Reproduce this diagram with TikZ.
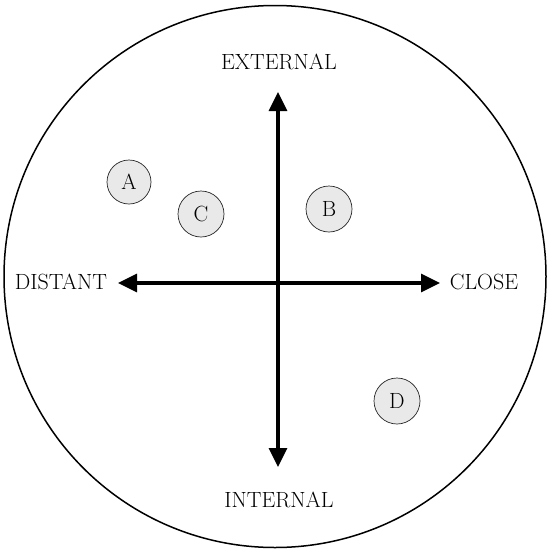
\documentclass[tikz,border=0pt]{standalone}
\usetikzlibrary{arrows.meta,patterns}
\begin{document}
\begin{tikzpicture}[x=1pt,y=-1pt,
  lbl/.style={font=\fontsize{22}{26}\selectfont, inner sep=0pt},
  small/.style={circle, draw=black!85, line width=0.7pt, fill=gray!17, minimum size=46pt, inner sep=0pt, font=\fontsize{22}{25}\selectfont},
  axis/.style={line width=3.3pt, {Triangle[length=19pt,width=18pt]}-{Triangle[length=19pt,width=18pt]}}]
\useasboundingbox (0,0) rectangle (549,549);
\node[circle, draw, line width=1.5pt, minimum size=542pt, inner sep=0pt] (outer) at (275,276.5) {};
\coordinate (top) at (278,92);
\coordinate (bot) at (278,467);
\coordinate (lft) at (118,283);
\coordinate (rgt) at (440,283);
\draw[axis] (top) -- (bot);
\draw[axis] (lft) -- (rgt);
\node[lbl] (ext) at (279,62) {EXTERNAL};
\node[lbl] (int) at (279,500) {INTERNAL};
\node[lbl] (dist) at (61,282) {DISTANT};
\node[lbl] (close) at (484,282) {CLOSE};
\node[small, minimum size=44pt] (A) at (129,182) {A};
\node[small] (C) at (201,214) {C};
\node[small] (B) at (329,209) {B};
\node[small] (D) at (397,401) {D};
\end{tikzpicture}
\end{document}
